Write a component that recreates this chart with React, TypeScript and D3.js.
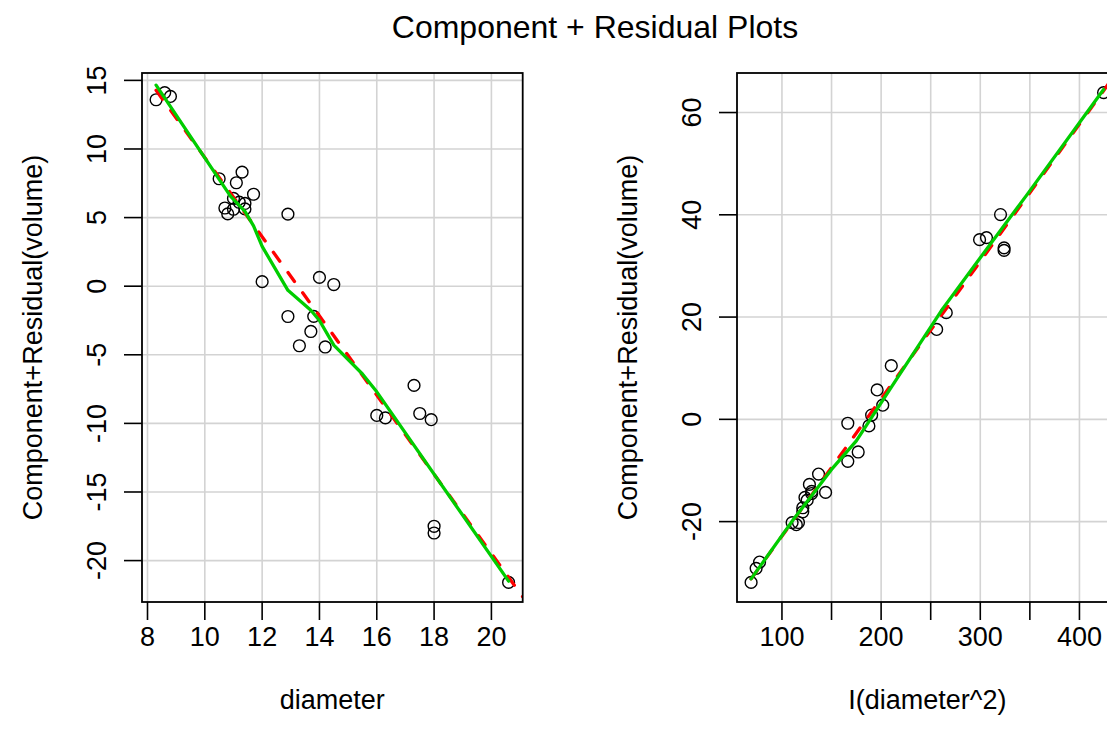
import React from 'react';
import * as d3 from 'd3';

// ---- data ----
const diameter = [8.3, 8.6, 8.8, 10.5, 10.7, 10.8, 11.0, 11.0, 11.1, 11.2, 11.3, 11.4, 11.4, 11.7, 12.0, 12.9, 12.9, 13.3, 13.7, 13.8, 14.0, 14.2, 14.5, 16.0, 16.3, 17.3, 17.5, 17.9, 18.0, 18.0, 20.6];
const diameterSq = [68.89, 73.96, 77.44, 110.25, 114.49, 116.64, 121.0, 121.0, 123.21, 125.44, 127.69, 129.96, 129.96, 136.89, 144.0, 166.41, 166.41, 176.89, 187.69, 190.44, 196.0, 201.64, 210.25, 256.0, 265.69, 299.29, 306.25, 320.41, 324.0, 324.0, 424.36];
const crDiameter = [13.59, 14.11, 13.83, 7.83, 5.70, 5.27, 6.40, 5.61, 7.54, 6.12, 8.31, 5.63, 6.03, 6.70, 0.33, -2.21, 5.25, -4.34, -3.30, -2.20, 0.64, -4.43, 0.12, -9.42, -9.60, -7.23, -9.28, -9.73, -17.50, -17.99, -21.59];
const crDiameterSq = [-31.89, -29.14, -27.91, -20.19, -20.60, -20.17, -17.29, -18.08, -15.27, -15.80, -12.72, -14.50, -14.10, -10.70, -14.29, -8.22, -0.76, -6.38, -1.28, 0.84, 5.75, 2.77, 10.50, 17.58, 20.86, 35.14, 35.54, 40.05, 33.54, 33.04, 63.90];

// component (least-squares) lines: visible from the first point to the right plot edge
const fitDiameter: [number, number][] = [[8.3, 14.28], [21.09, -22.63]];
const fitDiameterSq: [number, number][] = [[68.89, -31.20], [438.58, 68.10]];

// smoother (green) vertices
const smoothDiameter: [number, number][] = [[8.3, 14.65], [10.9, 6.55], [11.4, 5.45], [11.7, 4.4], [12.0, 2.9], [12.9, -0.3], [13.7, -1.75], [14.0, -2.5], [14.5, -4.3], [15.5, -6.4], [16.0, -7.7], [20.6, -21.5]];
const smoothDiameterSq: [number, number][] = [[68.89, -31.2], [110, -20.0], [150, -9.8], [175, -4.2], [210, 6.2], [262, 21.6], [300, 31.6], [347, 43.9], [424.36, 64.5]];

const xTicksDiameter = [8, 10, 12, 14, 16, 18, 20];
const yTicksDiameter = [-20, -15, -10, -5, 0, 5, 10, 15];
const xTicksDiameterSq = [100, 150, 200, 250, 300, 350, 400, 450];
const xLabelsDiameterSq = [100, 200, 300, 400];
const yTicksDiameterSq = [-20, 0, 20, 40, 60];

const W = 1107;
const H = 746;
const TOP = 73;
const BOTTOM = 602;
const PW = 380.7;
const FONT = '"Liberation Sans", Arial, Helvetica, sans-serif';
const FS = 27;

function padded(vals: number[]): [number, number] {
  const [a, b] = d3.extent(vals) as [number, number];
  const r = b - a;
  return [a - 0.04 * r, b + 0.04 * r];
}

type PanelProps = {
  id: string;
  left: number;
  xs: number[];
  ys: number[];
  fit: [number, number][];
  smooth: [number, number][];
  xTicks: number[];
  xLabels: number[];
  yTicks: number[];
  xTitle: string;
  yTitle: string;
};

function Panel(p: PanelProps) {
  const x = d3.scaleLinear().domain(padded(p.xs)).range([p.left, p.left + PW]);
  const y = d3.scaleLinear().domain(padded(p.ys)).range([BOTTOM, TOP]);
  const line = d3.line<[number, number]>().x(d => x(d[0])).y(d => y(d[1]));
  const right = p.left + PW;
  const tickLen = 18;
  return (
    <g>
      <defs>
        <clipPath id={p.id}>
          <rect x={p.left} y={TOP} width={PW} height={BOTTOM - TOP} />
        </clipPath>
      </defs>
      <g clipPath={`url(#${p.id})`}>
        {p.xTicks.map(t => (
          <line key={'gx' + t} x1={x(t)} x2={x(t)} y1={TOP} y2={BOTTOM} stroke="#D3D3D3" strokeWidth={1.6} />
        ))}
        {p.yTicks.map(t => (
          <line key={'gy' + t} x1={p.left} x2={right} y1={y(t)} y2={y(t)} stroke="#D3D3D3" strokeWidth={1.6} />
        ))}
        {p.xs.map((v, i) => (
          <circle key={'pt' + i} cx={x(v)} cy={y(p.ys[i])} r={5.9} fill="none" stroke="#000" strokeWidth={1.4} />
        ))}
        <path d={line(p.fit) || ''} fill="none" stroke="#FF0000" strokeWidth={3.3} strokeDasharray="11 14" strokeLinecap="round" />
        <path d={line(p.smooth) || ''} fill="none" stroke="#00CD00" strokeWidth={3.3} strokeLinejoin="round" strokeLinecap="round" />
      </g>
      <rect x={p.left} y={TOP} width={PW} height={BOTTOM - TOP} fill="none" stroke="#000" strokeWidth={1.8} />
      {p.xTicks.map(t => (
        <line key={'tx' + t} x1={x(t)} x2={x(t)} y1={BOTTOM} y2={BOTTOM + tickLen} stroke="#000" strokeWidth={1.6} />
      ))}
      {p.yTicks.map(t => (
        <line key={'ty' + t} x1={p.left - tickLen} x2={p.left} y1={y(t)} y2={y(t)} stroke="#000" strokeWidth={1.6} />
      ))}
      {p.xLabels.map(t => (
        <text key={'lx' + t} x={x(t)} y={BOTTOM + 44} textAnchor="middle" fontSize={FS} fontFamily={FONT} fill="#000">{t}</text>
      ))}
      {p.yTicks.map(t => (
        <text key={'ly' + t} transform={`translate(${p.left - 36.5},${y(t)}) rotate(-90)`} textAnchor="middle" fontSize={FS} fontFamily={FONT} fill="#000">{t}</text>
      ))}
      <text x={(p.left + right) / 2} y={709} textAnchor="middle" fontSize={FS} fontFamily={FONT} fill="#000">{p.xTitle}</text>
      <text transform={`translate(${p.left - 100},${(TOP + BOTTOM) / 2}) rotate(-90)`} textAnchor="middle" fontSize={FS} fontFamily={FONT} fill="#000">{p.yTitle}</text>
    </g>
  );
}

export default function App() {
  return (
    <svg width={W} height={H} viewBox={`0 0 ${W} ${H}`} style={{ position: 'absolute', left: 0, top: 0, background: '#fff' }}>
      <rect x={0} y={0} width={W} height={H} fill="#fff" />
      <text x={595} y={38} textAnchor="middle" fontSize={32} fontFamily={FONT} fill="#000">Component + Residual Plots</text>
      <Panel id="clipA" left={142} xs={diameter} ys={crDiameter} fit={fitDiameter} smooth={smoothDiameter}
        xTicks={xTicksDiameter} xLabels={xTicksDiameter} yTicks={yTicksDiameter}
        xTitle="diameter" yTitle="Component+Residual(volume)" />
      <Panel id="clipB" left={737} xs={diameterSq} ys={crDiameterSq} fit={fitDiameterSq} smooth={smoothDiameterSq}
        xTicks={xTicksDiameterSq} xLabels={xLabelsDiameterSq} yTicks={yTicksDiameterSq}
        xTitle="I(diameter^2)" yTitle="Component+Residual(volume)" />
    </svg>
  );
}
